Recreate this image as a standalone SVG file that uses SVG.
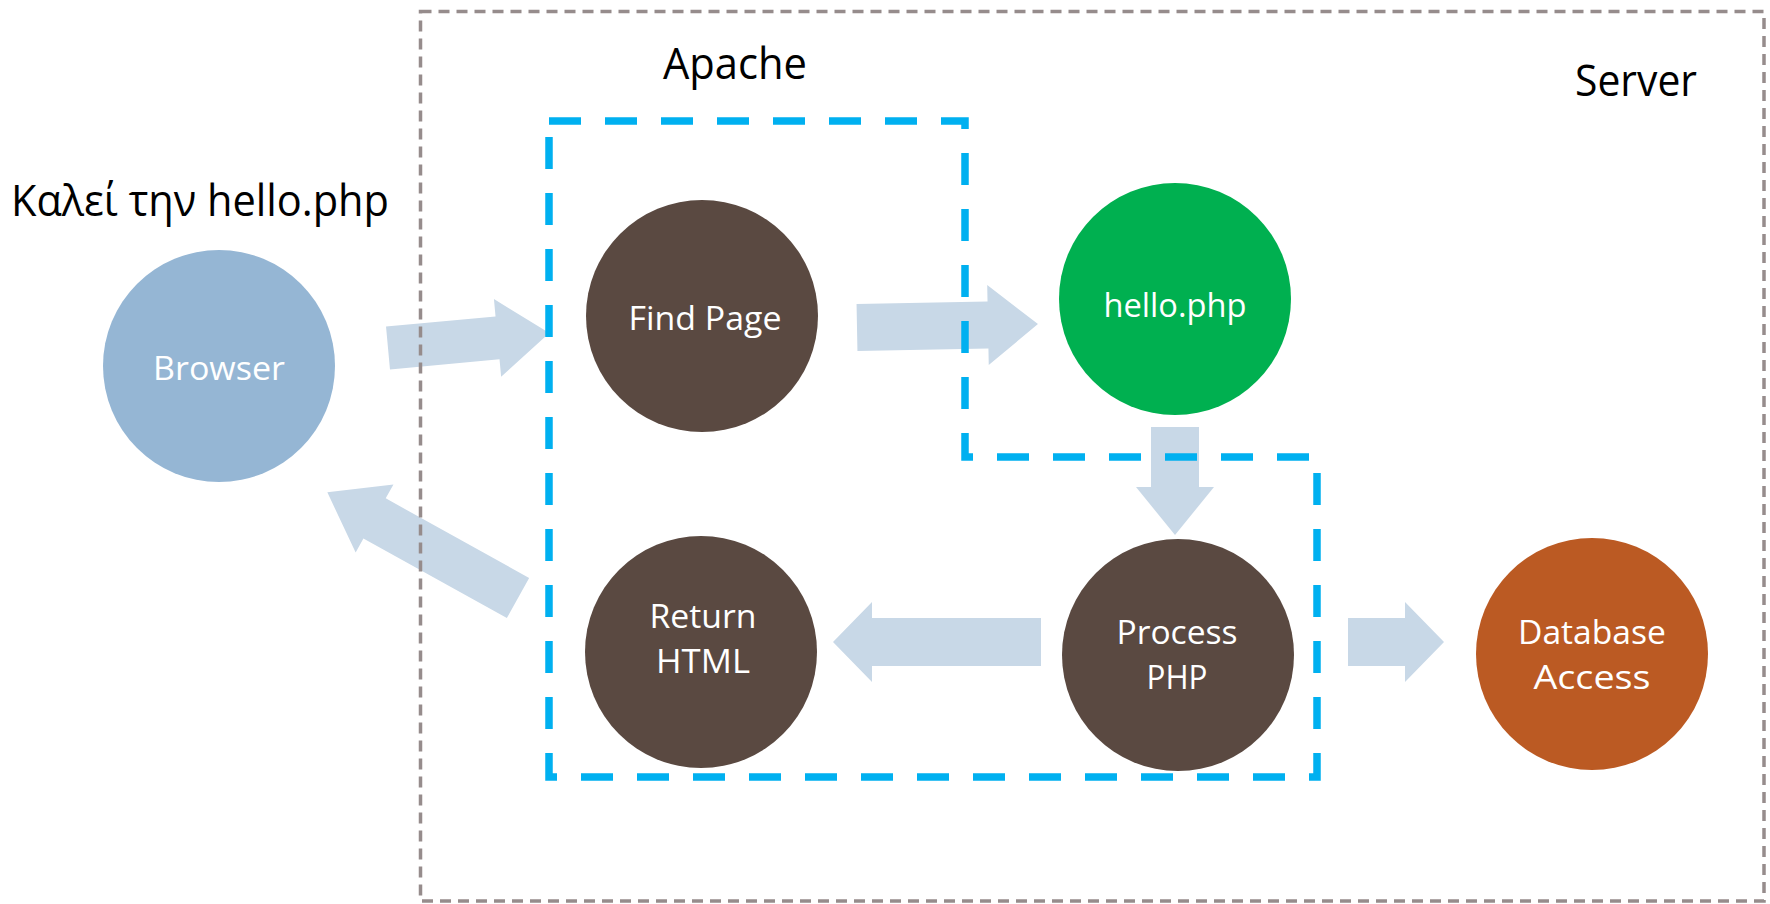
<svg xmlns="http://www.w3.org/2000/svg" width="1770" height="904" viewBox="0 0 1770 904">
<style>
.arrow{fill:#c8d8e7}
.lbl{font-family:"Open Sans","Noto Sans",sans-serif;font-size:33px;fill:#ffffff;text-anchor:middle}
.title{font-family:"Open Sans","Noto Sans",sans-serif;font-size:43px;fill:#000000}
.node{stroke:none}
</style>
<rect width="1770" height="904" fill="#ffffff"/>
<g id="connectors">
<path class="arrow" transform="translate(388,348) rotate(-5.3)" d="M0,-21.5 H110 V-39 L162,0 L110,39 V21.5 H0 Z"/>
<path class="arrow" transform="translate(857,327.5) rotate(-1.1)" d="M0,-23.5 H131 V-40 L181,0 L131,40 V23.5 H0 Z"/>
<path class="arrow" transform="translate(1175,427) rotate(90)" d="M0,-24 H60 V-39 L108,0 L60,39 V24 H0 Z"/>
<path class="arrow" transform="translate(1041,642) rotate(180)" d="M0,-24 H169 V-40 L208,0 L169,40 V24 H0 Z"/>
<path class="arrow" transform="translate(1348,642)" d="M0,-24 H57 V-40 L96,0 L57,40 V24 H0 Z"/>
<path class="arrow" transform="translate(518,598) rotate(209)" d="M0,-23 H164 V-39 L218,0 L164,39 V23 H0 Z"/>
</g>
<g id="server">
<rect x="420.5" y="11.5" width="1343.5" height="889.5" fill="none" stroke="#968c8c" stroke-width="3.5" stroke-dasharray="11 7"/>
<text class="title" x="1636" y="96" text-anchor="middle" textLength="122" lengthAdjust="spacingAndGlyphs">Server</text>
</g>
<g id="apache">
<path d="M549,121 H965 V457 H1317 V777 H549 Z" fill="none" stroke="#00b0f0" stroke-width="7.5" stroke-dasharray="32 24"/>
<text class="title" x="735" y="79" text-anchor="middle" textLength="144" lengthAdjust="spacingAndGlyphs">Apache</text>
</g>
<g id="caption">
<text class="title" x="11" y="216" textLength="378" lengthAdjust="spacingAndGlyphs">Καλεί την hello.php</text>
</g>
<g id="browser">
<circle class="node" cx="219" cy="366" r="116" fill="#95b6d4"/>
<text class="lbl" x="219" y="380" textLength="132" lengthAdjust="spacingAndGlyphs">Browser</text>
</g>
<g id="find-page">
<circle class="node" cx="702" cy="316" r="116" fill="#5a4941"/>
<text class="lbl" x="705" y="330" textLength="153" lengthAdjust="spacingAndGlyphs">Find Page</text>
</g>
<g id="hello-php">
<circle class="node" cx="1175" cy="299" r="116" fill="#00b050"/>
<text class="lbl" x="1175" y="317" textLength="143" lengthAdjust="spacingAndGlyphs">hello.php</text>
</g>
<g id="process-php">
<circle class="node" cx="1178" cy="655" r="116" fill="#5a4941"/>
<text class="lbl" x="1177" y="644" textLength="121" lengthAdjust="spacingAndGlyphs">Process</text>
<text class="lbl" x="1177" y="689" textLength="61" lengthAdjust="spacingAndGlyphs">PHP</text>
</g>
<g id="return-html">
<circle class="node" cx="701" cy="652" r="116" fill="#5a4941"/>
<text class="lbl" x="703" y="628" textLength="107" lengthAdjust="spacingAndGlyphs">Return</text>
<text class="lbl" x="703" y="673" textLength="94" lengthAdjust="spacingAndGlyphs">HTML</text>
</g>
<g id="database-access">
<circle class="node" cx="1592" cy="654" r="116" fill="#bb5a23"/>
<text class="lbl" x="1592" y="644" textLength="148" lengthAdjust="spacingAndGlyphs">Database</text>
<text class="lbl" x="1592" y="689" textLength="117" lengthAdjust="spacingAndGlyphs">Access</text>
</g>
</svg>
